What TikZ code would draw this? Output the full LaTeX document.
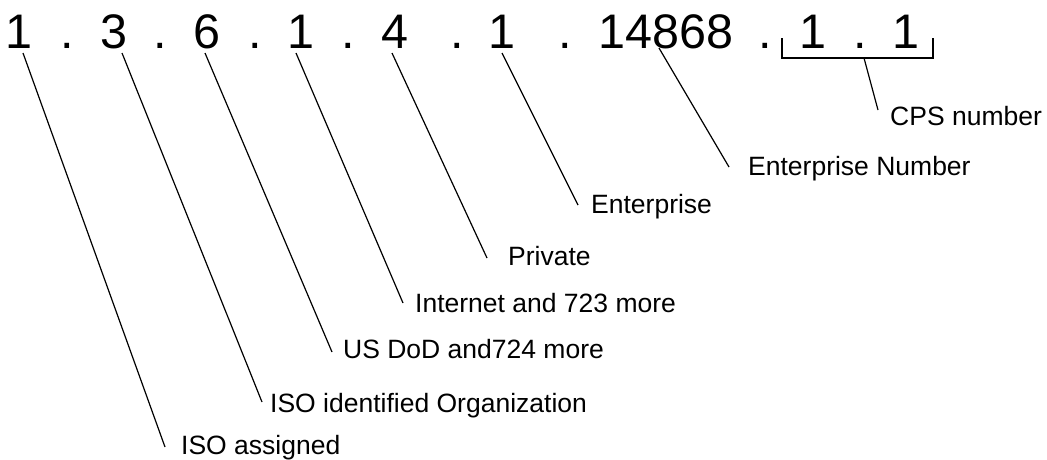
\documentclass[tikz,border=0pt]{standalone}
\usepackage{fontspec}
\setmainfont{Liberation Sans}
\begin{document}
\begin{tikzpicture}[x=1pt,y=-1pt,
  oidpart/.style={inner sep=0pt,anchor=base,font=\fontsize{48.5}{52}\selectfont},
  caption/.style={inner sep=0pt,anchor=base west,font=\fontsize{26.5}{30}\selectfont},
  leader/.style={line width=1.2pt,black}]
\useasboundingbox (0,0) rectangle (1047,459);

% the OID, one node per arc and per dot
\node[oidpart] (d1) at (19,48) {1};
\node[oidpart] (p1) at (67,48) {.};
\node[oidpart] (d2) at (114,48) {3};
\node[oidpart] (p2) at (160,48) {.};
\node[oidpart] (d3) at (207,48) {6};
\node[oidpart] (p3) at (255,48) {.};
\node[oidpart] (d4) at (301,48) {1};
\node[oidpart] (p4) at (348,48) {.};
\node[oidpart] (d5) at (395,48) {4};
\node[oidpart] (p5) at (457,48) {.};
\node[oidpart] (d6) at (502,48) {1};
\node[oidpart] (p6) at (565,48) {.};
\node[oidpart] (d7) at (666,48) {14868};
\node[oidpart] (p7) at (765,48) {.};
\node[oidpart] (d8) at (813,48) {1};
\node[oidpart] (p8) at (860,48) {.};
\node[oidpart] (d9) at (906,48) {1};

% bracket under the last two arcs
\coordinate (bl) at (782,38);
\coordinate (br) at (933,38);
\coordinate (bm) at (864,58);
\draw[leader] (bl) -- (782,58) -- (933,58) -- (br);

% captions
\node[caption] (l1) at (181,454) {ISO assigned};
\node[caption] (l2) at (270,412) {ISO identified Organization};
\node[caption] (l3) at (343,358) {US DoD and724 more};
\node[caption] (l4) at (415,312) {Internet and 723 more};
\node[caption] (l5) at (508,265) {Private};
\node[caption] (l6) at (591,213) {Enterprise};
\node[caption] (l7) at (748,175) {Enterprise Number};
\node[caption] (l8) at (890,125) {CPS number};

% leader lines
\draw[leader] ([shift={(4,5)}]d1.base) -- ([shift={(-16,-7)}]l1.base west);
\draw[leader] ([shift={(8,5)}]d2.base) -- ([shift={(-8,-10)}]l2.base west);
\draw[leader] ([shift={(-2,5)}]d3.base) -- ([shift={(-11,-6)}]l3.base west);
\draw[leader] ([shift={(-5,5)}]d4.base) -- ([shift={(-12,-9)}]l4.base west);
\draw[leader] ([shift={(-3,5)}]d5.base) -- ([shift={(-21,-7)}]l5.base west);
\draw[leader] ([shift={(0,5)}]d6.base) -- ([shift={(-13,-8)}]l6.base west);
\draw[leader] ([shift={(-7,0)}]d7.base) -- ([shift={(-19,-8)}]l7.base west);
\draw[leader] (bm) -- ([shift={(-12,-15)}]l8.base west);
\end{tikzpicture}
\end{document}
